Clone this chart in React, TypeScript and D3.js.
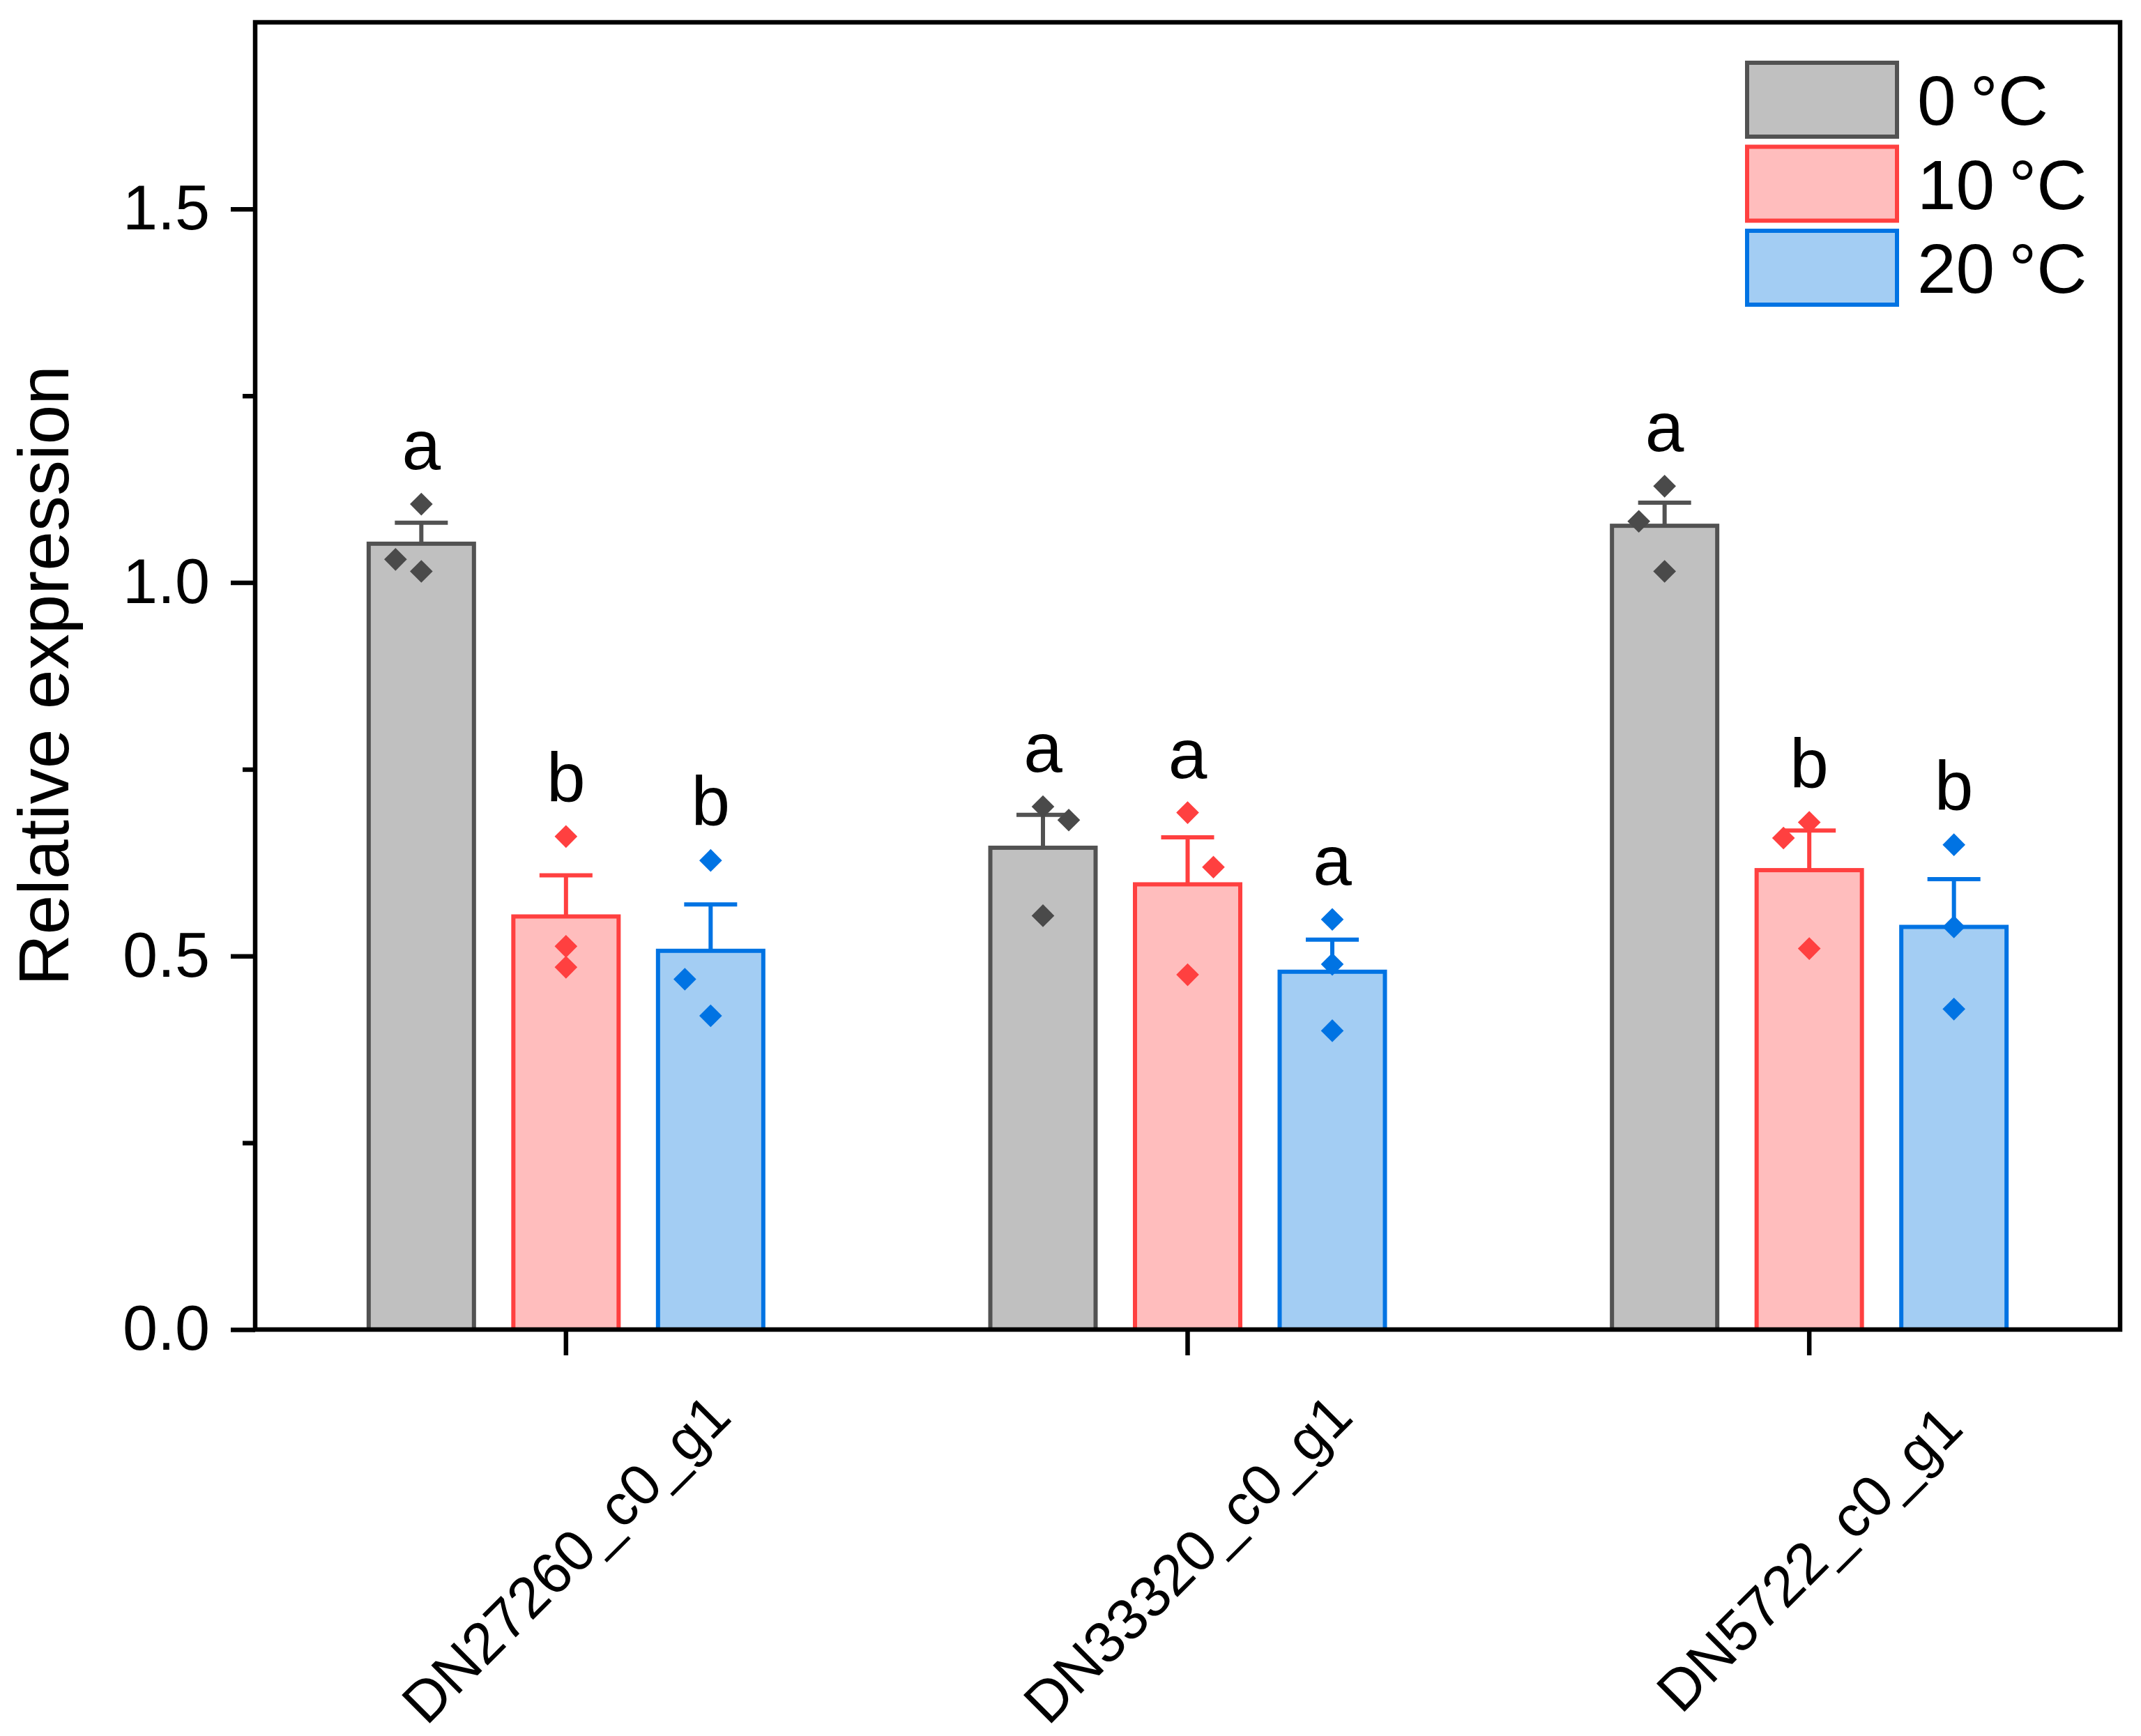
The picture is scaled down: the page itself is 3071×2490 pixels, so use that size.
import * as React from "react";
import { useEffect, useRef } from "react";
import * as d3 from "d3";

const genes = ["DN27260_c0_g1", "DN33320_c0_g1", "DN5722_c0_g1"];
const temps = ["0\u2009°C", "10\u2009°C", "20\u2009°C"];

// mean relative expression per gene
const mean0 = [1.052, 0.645, 1.076];
const mean10 = [0.553, 0.596, 0.615];
const mean20 = [0.507, 0.479, 0.539];

// standard error, only the upper whisker is drawn
const se0 = [0.028, 0.044, 0.031];
const se10 = [0.055, 0.063, 0.053];
const se20 = [0.062, 0.043, 0.064];

// the three replicates of every bar
const reps0 = [[1.105, 1.031, 1.015], [0.7, 0.682, 0.554], [1.129, 1.082, 1.015]];
const reps10 = [[0.66, 0.513, 0.485], [0.692, 0.619, 0.475], [0.679, 0.658, 0.51]];
const reps20 = [[0.628, 0.469, 0.42], [0.549, 0.489, 0.4], [0.649, 0.539, 0.429]];

// replicates pushed aside so they don't overlap (-1 left, 1 right)
const nudge0 = [[0, -1, 0], [0, 1, 0], [0, -1, 0]];
const nudge10 = [[0, 0, 0], [0, 1, 0], [0, -1, 0]];
const nudge20 = [[0, -1, 0], [0, 0, 0], [0, 0, 0]];

// significance letters
const letters0 = ["a", "a", "a"];
const letters10 = ["b", "a", "b"];
const letters20 = ["b", "a", "b"];

const yTicks = [0, 0.5, 1.0, 1.5];
const yMinorTicks = [0.25, 0.75, 1.25];

const fills = ["#C0C0C0", "#FFBDBD", "#A3CDF3"];
const strokes = ["#525252", "#FF4040", "#0073E3"];
const dots = ["#4A4A4A", "#FF4040", "#0073E3"];

const FONT = "Arial, 'Liberation Sans', Helvetica, sans-serif";

export default function App() {
    const svgRef = useRef<SVGSVGElement>(null);

    useEffect(() => {
        const svgWidth = 3071;
        const svgHeight = 2490;
        const left = 366;
        const right = 3041;
        const top = 32;
        const bottom = 1907;
        const barWidth = 151;
        const lw = 6;

        const svg = d3.select(svgRef.current);
        svg.selectAll("*").remove();
        svg.attr("width", svgWidth).attr("height", svgHeight);

        const series = temps.map((name, i) => ({
            name,
            mean: [mean0, mean10, mean20][i],
            se: [se0, se10, se20][i],
            reps: [reps0, reps10, reps20][i],
            nudge: [nudge0, nudge10, nudge20][i],
            letters: [letters0, letters10, letters20][i],
            fill: fills[i],
            stroke: strokes[i],
            dot: dots[i],
        }));

        const x0 = d3.scaleBand().domain(genes).range([left, right]).padding(0);
        const x1 = d3.scalePoint().domain(temps).range([-207.5, 207.5]);
        const yScale = d3.scaleLinear().domain([0, 1.75]).range([bottom, top]);
        const cx = (g: string, t: string) => (x0(g) as number) + x0.bandwidth() / 2 + (x1(t) as number);

        const diamond = d3.symbol(d3.symbolSquare, 533);

        series.forEach((s) => {
            const grp = svg.append("g");
            genes.forEach((g, j) => {
                const c = cx(g, s.name);
                const m = s.mean[j];
                const hi = m + s.se[j];
                grp.append("rect")
                    .attr("x", c - barWidth / 2)
                    .attr("y", yScale(m))
                    .attr("width", barWidth)
                    .attr("height", yScale(0) - yScale(m))
                    .attr("fill", s.fill)
                    .attr("stroke", s.stroke)
                    .attr("stroke-width", lw);
                // whisker + cap
                grp.append("line")
                    .attr("x1", c).attr("x2", c)
                    .attr("y1", yScale(m)).attr("y2", yScale(hi))
                    .attr("stroke", s.stroke).attr("stroke-width", lw);
                grp.append("line")
                    .attr("x1", c - 38).attr("x2", c + 38)
                    .attr("y1", yScale(hi)).attr("y2", yScale(hi))
                    .attr("stroke", s.stroke).attr("stroke-width", lw);
                s.reps[j].forEach((v, k) => {
                    grp.append("path")
                        .attr("d", diamond() as string)
                        .attr("fill", s.dot)
                        .attr("transform", `translate(${c + s.nudge[j][k] * 37}, ${yScale(v)}) rotate(45)`);
                });
                const peak = Math.max(hi, ...s.reps[j]);
                svg.append("text")
                    .attr("x", c)
                    .attr("y", yScale(peak) - 50)
                    .attr("text-anchor", "middle")
                    .style("font-family", FONT)
                    .style("font-size", "100px")
                    .attr("fill", "#000")
                    .text(s.letters[j]);
            });
        });

        // frame
        svg.append("rect")
            .attr("x", left).attr("y", top)
            .attr("width", right - left).attr("height", bottom - top)
            .attr("fill", "none").attr("stroke", "#000").attr("stroke-width", 6.5);

        const yAxis = d3.axisLeft(yScale)
            .tickValues(yTicks)
            .tickSize(35)
            .tickPadding(30)
            .tickFormat(d3.format(".1f") as any);
        const yMinor = d3.axisLeft(yScale)
            .tickValues(yMinorTicks)
            .tickSize(18)
            .tickFormat(() => "");

        const gy = svg.append("g").attr("transform", `translate(${left},0)`).call(yAxis);
        const gy2 = svg.append("g").attr("transform", `translate(${left},0)`).call(yMinor);
        [gy, gy2].forEach((g) => {
            g.select(".domain").remove();
            g.selectAll(".tick line").attr("stroke", "#000").attr("stroke-width", 6.5);
        });
        gy.selectAll(".tick text")
            .attr("fill", "#000")
            .style("font-family", FONT)
            .style("font-size", "90px");

        const xAxis = d3.axisBottom(x0).tickSize(37);
        const gx = svg.append("g").attr("transform", `translate(0,${bottom})`).call(xAxis);
        gx.select(".domain").remove();
        gx.selectAll(".tick line").attr("stroke", "#000").attr("stroke-width", 6.5);
        gx.selectAll(".tick text")
            .attr("y", null)
            .attr("dy", null)
            .attr("fill", "#000")
            .attr("text-anchor", "middle")
            .attr("dominant-baseline", "central")
            .attr("transform", "translate(0,329) rotate(-45)")
            .style("font-family", FONT)
            .style("font-size", "83px");

        svg.append("text")
            .attr("transform", `translate(98,969) rotate(-90)`)
            .attr("text-anchor", "middle")
            .style("font-family", FONT)
            .style("font-size", "102px")
            .attr("fill", "#000")
            .text("Relative expression");

        // legend
        const legend = svg.append("g");
        series.forEach((s, i) => {
            const cy = 143 + i * 120.5;
            legend.append("rect")
                .attr("x", 2506).attr("y", cy - 53)
                .attr("width", 215).attr("height", 106)
                .attr("fill", s.fill)
                .attr("stroke", s.stroke)
                .attr("stroke-width", lw);
            legend.append("text")
                .attr("x", 2750)
                .attr("y", cy + 36)
                .style("font-family", FONT)
                .style("font-size", "100px")
                .attr("fill", "#000")
                .text(s.name);
        });
    }, []);

    return (
        <svg
            ref={svgRef}
            width={3071}
            height={2490}
            style={{ position: "absolute", left: 0, top: 0, background: "#fff" }}
        />
    );
}
